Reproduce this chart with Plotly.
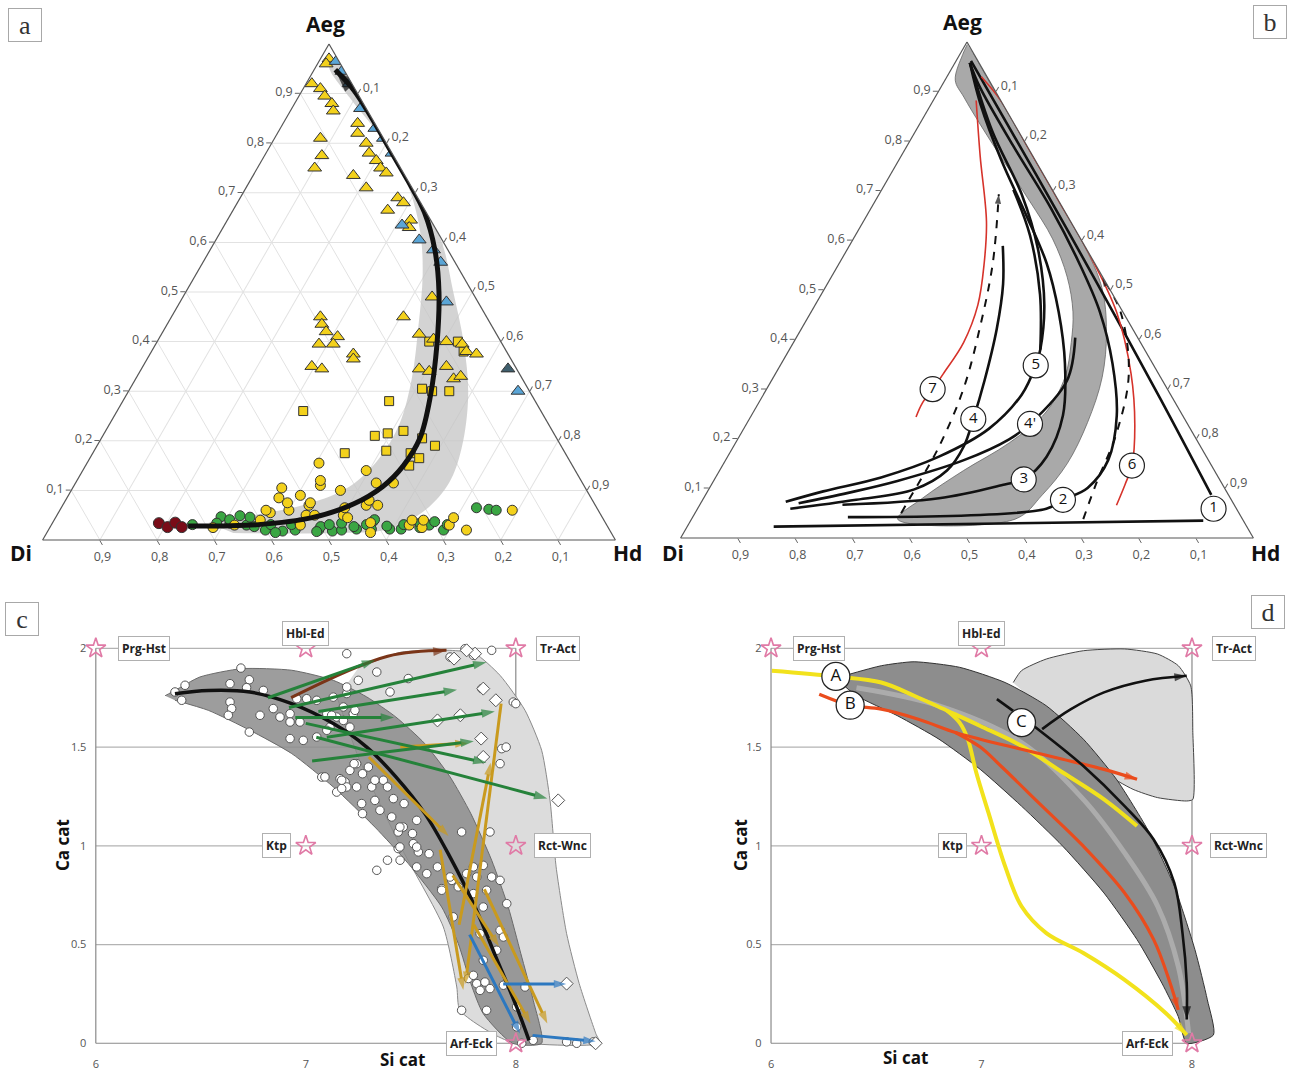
import plotly.graph_objects as go

W, H = 1295, 1074

# ================= Panel a data (Aeg, Hd fractions; Di = remainder) =================
yt_aeg = [0.97, 0.96, 0.92, 0.91, 0.895, 0.88, 0.865, 0.81, 0.775, 0.75, 0.84, 0.82, 0.80, 0.78, 0.765, 0.75,
          0.74, 0.735, 0.71, 0.665, 0.69, 0.68, 0.645, 0.63, 0.49, 0.45, 0.45, 0.435, 0.42, 0.41, 0.395, 0.395,
          0.375, 0.365, 0.35, 0.345, 0.415, 0.405, 0.40, 0.395, 0.38, 0.375, 0.345, 0.34, 0.35, 0.325, 0.33]
yt_hd = [0.015, 0.015, 0.01, 0.03, 0.045, 0.065, 0.075, 0.08, 0.10, 0.10, 0.13, 0.14, 0.165, 0.18, 0.20, 0.215,
         0.23, 0.175, 0.21, 0.27, 0.275, 0.29, 0.32, 0.325, 0.435, 0.405, 0.26, 0.27, 0.285, 0.31, 0.285, 0.31,
         0.355, 0.36, 0.295, 0.315, 0.45, 0.48, 0.505, 0.535, 0.55, 0.57, 0.485, 0.505, 0.53, 0.555, 0.565]
bt_aeg = [0.965, 0.945, 0.92, 0.87, 0.83, 0.81, 0.78, 0.635, 0.605, 0.585, 0.56, 0.48, 0.30]
bt_hd = [0.03, 0.05, 0.075, 0.12, 0.165, 0.19, 0.22, 0.31, 0.355, 0.39, 0.415, 0.465, 0.68]
dt_aeg = [0.345]
dt_hd = [0.64]
sq_aeg = [0.40, 0.305, 0.30, 0.30, 0.28, 0.26, 0.21, 0.215, 0.22, 0.205, 0.19, 0.18, 0.175, 0.165, 0.15, 0.175, 0.40, 0.38]
sq_hd = [0.475, 0.51, 0.53, 0.56, 0.465, 0.325, 0.475, 0.495, 0.52, 0.56, 0.59, 0.51, 0.555, 0.575, 0.565, 0.44, 0.525, 0.545]
yc_aeg = [0.155, 0.14, 0.11, 0.10, 0.115, 0.115, 0.085, 0.09, 0.07, 0.06, 0.055, 0.04, 0.03, 0.05, 0.07, 0.07,
          0.035, 0.03, 0.025, 0.03, 0.02, 0.06, 0.025, 0.03, 0.06, 0.075, 0.075, 0.065, 0.045, 0.08, 0.04, 0.04,
          0.045, 0.015, 0.05, 0.05, 0.105, 0.12]
yc_hd = [0.405, 0.495, 0.43, 0.47, 0.525, 0.555, 0.37, 0.405, 0.43, 0.40, 0.37, 0.36, 0.435, 0.50, 0.53, 0.55,
         0.555, 0.625, 0.65, 0.695, 0.73, 0.79, 0.285, 0.32, 0.36, 0.39, 0.43, 0.495, 0.51, 0.53, 0.625, 0.645,
         0.695, 0.565, 0.435, 0.45, 0.365, 0.425]
gc_aeg = [0.065, 0.062, 0.06, 0.034, 0.03, 0.02, 0.018, 0.02, 0.02, 0.018, 0.02, 0.022, 0.037, 0.022, 0.022, 0.022,
          0.025, 0.03, 0.02, 0.031, 0.047, 0.041, 0.049, 0.046, 0.034, 0.027, 0.031, 0.015, 0.031, 0.034, 0.027,
          0.031, 0.034, 0.027, 0.031, 0.041, 0.028, 0.031, 0.034, 0.037, 0.031, 0.017]
gc_hd = [0.725, 0.748, 0.762, 0.31, 0.341, 0.379, 0.41, 0.431, 0.472, 0.497, 0.512, 0.537, 0.558, 0.563, 0.595, 0.615,
         0.646, 0.66, 0.69, 0.246, 0.288, 0.306, 0.32, 0.339, 0.287, 0.356, 0.383, 0.399, 0.419, 0.432, 0.472,
         0.485, 0.505, 0.53, 0.55, 0.559, 0.587, 0.615, 0.642, 0.666, 0.691, 0.47]
rc_aeg = [0.034, 0.026, 0.035, 0.026]
rc_hd = [0.186, 0.205, 0.214, 0.23]
trend_a_aeg = [0.028, 0.031, 0.045, 0.073, 0.108, 0.150, 0.206, 0.290, 0.395, 0.500, 0.584, 0.661, 0.731, 0.794, 0.857, 0.906, 0.948]
trend_a_hd = [0.240, 0.361, 0.448, 0.507, 0.540, 0.555, 0.556, 0.532, 0.491, 0.442, 0.393, 0.336, 0.280, 0.219, 0.151, 0.091, 0.037]
band_a_aeg = [0.014, 0.014, 0.021, 0.059, 0.115, 0.185, 0.290, 0.395, 0.500, 0.605, 0.703, 0.787, 0.864, 0.920, 0.962,
              0.955, 0.892, 0.829, 0.773, 0.703, 0.619, 0.535, 0.430, 0.325, 0.234, 0.164, 0.108, 0.073, 0.052, 0.035]
band_a_hd = [0.326, 0.500, 0.591, 0.637, 0.652, 0.639, 0.598, 0.538, 0.467, 0.393, 0.315, 0.241, 0.162, 0.091, 0.034,
             0.023, 0.090, 0.165, 0.226, 0.290, 0.350, 0.396, 0.441, 0.482, 0.506, 0.505, 0.482, 0.427, 0.351, 0.272]

# ================= Panel b data =================
band_b_aeg = [0.986, 0.923, 0.854, 0.777, 0.693, 0.603, 0.505, 0.415, 0.324, 0.233, 0.150, 0.087, 0.038, 0.038,
              0.080, 0.136, 0.192, 0.254, 0.324, 0.394, 0.456, 0.526, 0.603, 0.679, 0.756, 0.833, 0.889, 0.923, 0.975, 0.995]
band_b_hd = [0.023, 0.076, 0.154, 0.243, 0.328, 0.409, 0.483, 0.536, 0.574, 0.594, 0.600, 0.588, 0.565, 0.360,
             0.382, 0.426, 0.478, 0.511, 0.509, 0.485, 0.457, 0.412, 0.348, 0.270, 0.188, 0.107, 0.050, 0.018, 0.005, 0.003]
l1h_aeg = [0.023, 0.035]
l1h_hd = [0.151, 0.895]
l1e_aeg = [0.087, 0.282, 0.512, 0.735, 0.962]
l1e_hd = [0.883, 0.696, 0.472, 0.252, 0.026]
l2_aeg = [0.042, 0.059, 0.077, 0.101, 0.157, 0.247, 0.352, 0.456, 0.554, 0.666, 0.791, 0.909, 0.958]
l2_hd = [0.271, 0.609, 0.629, 0.660, 0.668, 0.638, 0.578, 0.504, 0.419, 0.313, 0.185, 0.068, 0.026]
l3_aeg = [0.067, 0.080, 0.108, 0.118, 0.164, 0.247, 0.352, 0.456, 0.554, 0.652, 0.763, 0.875, 0.958]
l3_hd = [0.249, 0.411, 0.512, 0.540, 0.557, 0.544, 0.495, 0.432, 0.362, 0.277, 0.178, 0.086, 0.026]
l4_aeg = [0.589, 0.512, 0.422, 0.317, 0.240, 0.185, 0.136, 0.098, 0.077, 0.059]
l4_hd = [0.268, 0.307, 0.341, 0.372, 0.391, 0.402, 0.397, 0.359, 0.268, 0.162]
l4p_aeg = [0.404, 0.317, 0.230, 0.199, 0.157, 0.115, 0.091, 0.070]
l4p_hd = [0.487, 0.516, 0.495, 0.474, 0.416, 0.321, 0.247, 0.171]
l5_aeg = [0.958, 0.819, 0.693, 0.582, 0.470, 0.380, 0.348, 0.289, 0.220, 0.164, 0.122, 0.094, 0.073]
l5_hd = [0.026, 0.135, 0.249, 0.333, 0.400, 0.438, 0.446, 0.451, 0.428, 0.369, 0.289, 0.202, 0.147]
l5x_aeg = [0.702, 0.610, 0.491, 0.380]
l5x_hd = [0.230, 0.305, 0.382, 0.438]
l6_aeg = [0.93, 0.882, 0.791, 0.693, 0.582, 0.456, 0.331, 0.226, 0.146, 0.108, 0.066]
l6_hd = [0.06, 0.118, 0.214, 0.321, 0.427, 0.533, 0.621, 0.680, 0.715, 0.722, 0.728]
l7_aeg = [0.882, 0.770, 0.638, 0.554, 0.470, 0.394, 0.331, 0.300, 0.272, 0.244]
l7_hd = [0.075, 0.138, 0.215, 0.253, 0.284, 0.297, 0.293, 0.290, 0.286, 0.289]
dl_aeg = [0.05, 0.080, 0.185, 0.303, 0.429, 0.554, 0.693]
dl_hd = [0.36, 0.360, 0.359, 0.343, 0.309, 0.268, 0.209]
dr_aeg = [0.038, 0.108, 0.213, 0.331, 0.456, 0.526]
dr_hd = [0.684, 0.671, 0.655, 0.617, 0.540, 0.473]
num_labels = ['1', '2', '3', '4', "4'", '5', '6', '7']
num_aeg = [0.059, 0.077, 0.118, 0.240, 0.230, 0.348, 0.146, 0.300]
num_hd = [0.901, 0.629, 0.540, 0.391, 0.495, 0.446, 0.715, 0.290]

# ================= Panels c/d common =================
si_ticks = [6, 7, 8]
ca_ticks = [0, 0.5, 1, 1.5, 2]
em_names = ['Prg-Hst', 'Hbl-Ed', 'Tr-Act', 'Ktp', 'Rct-Wnc', 'Arf-Eck']
em_si = [6, 7, 8, 7, 8, 8]
em_ca = [2, 2, 2, 1, 1, 0]
lab_si = [6.23, 7.0, 8.2, 6.86, 8.22, 7.79]
lab_ca = [2.0, 2.075, 2.0, 1.0, 1.0, 0.0]

# ================= Panel c data =================
c_pts_si = [6.691, 6.425, 6.377, 6.409, 6.639, 6.731, 6.718, 6.639, 6.647, 6.631, 6.731, 6.798, 6.782, 6.845, 6.877,
            6.925, 6.925, 6.972, 6.925, 6.988, 7.004, 7.052, 7.052, 7.076, 7.147, 7.187, 7.195, 7.195, 7.131, 7.1,
            7.147, 7.115, 7.210, 7.226, 7.210, 7.242, 6.957,
            7.338, 7.488, 7.401, 7.250, 7.195, 7.179, 7.234, 7.123, 7.179, 7.1, 7.838, 7.885, 7.758, 7.687, 7.798,
            7.988, 7.933, 7.925, 7.877, 7.742, 7.298, 7.163, 7.242, 7.314, 7.195, 7.266, 7.353, 7.464, 7.440, 7.512,
            7.536, 7.338, 7.449, 7.171, 7.440, 7.369, 7.417,
            7.528, 7.576, 7.798, 7.845, 7.766, 7.814, 7.885, 7.925, 7.647, 7.695, 7.798, 7.861, 7.702, 7.845, 7.957,
            7.925, 7.941, 7.830, 7.845, 7.909, 7.774, 7.814, 7.853, 7.830, 7.877, 7.941, 8.044, 7.798, 7.742, 7.861,
            8.083, 8.028, 8.242, 8.290, 8.369, 8.004, 8.004, 8.0, 7.954,
            7.389, 7.448, 7.508, 7.528, 7.587, 7.627, 7.687, 7.647, 7.726, 7.528, 7.468, 7.389, 7.329, 7.270, 7.230,
            7.171, 7.091, 7.270, 7.329, 7.409, 7.448]
c_pts_ca = [1.900, 1.813, 1.779, 1.737, 1.821, 1.841, 1.801, 1.728, 1.695, 1.661, 1.576, 1.787, 1.661, 1.695, 1.652,
            1.669, 1.627, 1.627, 1.543, 1.534, 1.745, 1.737, 1.551, 1.348, 1.272, 1.323, 1.771, 1.973, 1.753, 1.669,
            1.652, 1.601, 1.601, 1.669, 1.382, 1.416, 1.745,
            1.880, 1.847, 1.779, 1.838, 1.804, 1.703, 1.686, 1.661, 1.635, 1.585, 1.796, 1.990, 1.998, 1.956, 1.965,
            1.728, 1.492, 1.416, 1.070, 1.070, 1.399, 1.340, 1.298, 1.298, 1.298, 1.214, 1.180, 1.095, 1.070, 1.011,
            0.969, 0.876, 0.927, 1.290, 0.986, 1.332, 1.239,
            0.893, 0.859, 0.893, 0.901, 0.859, 0.842, 0.842, 0.825, 0.783, 0.825, 0.758, 0.775, 0.640, 0.690, 0.707,
            0.572, 0.538, 0.555, 0.420, 0.471, 0.328, 0.302, 0.310, 0.268, 0.277, 0.294, 0.285, 0.344, 0.167, 0.167,
            0.015, 0.0, 0.007, 0.0, 0.007, 0.184, 0.083, 1.72, 1.50,
            0.927, 0.994, 1.062, 0.994, 0.960, 0.893, 0.842, 0.775, 0.792, 1.129, 1.214, 1.298, 1.332, 1.365, 1.416,
            1.332, 1.349, 1.163, 1.230, 1.146, 1.095]
c_dia_si = [7.627, 7.736, 7.845, 7.845, 7.806, 7.766, 7.706, 8.202, 7.905, 7.835, 8.242, 8.38]
c_dia_ca = [1.635, 1.661, 1.796, 1.450, 1.973, 1.990, 1.948, 1.230, 1.737, 1.543, 0.302, 0.0]
c_curve_si = [6.377, 6.536, 6.734, 6.933, 7.131, 7.290, 7.429, 7.567, 7.687, 7.806, 7.905, 8.004, 8.063]
c_curve_ca = [1.770, 1.787, 1.779, 1.720, 1.619, 1.500, 1.349, 1.163, 0.943, 0.690, 0.437, 0.184, 0.015]
c_dark_si = [6.33, 6.377, 6.496, 6.694, 6.933, 7.131, 7.290, 7.429, 7.567, 7.687, 7.786, 7.885, 7.964, 8.024, 8.083, 8.123,
             7.984, 7.845, 7.786, 7.726, 7.647, 7.488, 7.329, 7.131, 6.933, 6.734, 6.536, 6.377]
c_dark_ca = [1.76, 1.787, 1.855, 1.897, 1.889, 1.838, 1.754, 1.652, 1.517, 1.349, 1.163, 0.927, 0.690, 0.454, 0.218, 0.0,
             0.0, 0.150, 0.302, 0.505, 0.690, 0.910, 1.095, 1.298, 1.467, 1.585, 1.686, 1.737]
c_light_si = [7.25, 7.45, 7.686, 7.806, 7.925, 8.044, 8.123, 8.163, 8.192, 8.242, 8.302, 8.381, 8.40, 7.957, 7.734,
              7.719, 7.655, 7.45, 7.25, 7.15]
c_light_ca = [1.90, 1.98, 1.99, 1.973, 1.863, 1.686, 1.484, 1.230, 0.893, 0.555, 0.302, 0.049, 0.0, 0.015, 0.167,
              0.285, 0.589, 1.0, 1.45, 1.75]
green_si0 = [6.82, 6.92, 7.06, 6.95, 7.10, 7.03, 7.00, 7.05]
green_ca0 = [1.75, 1.70, 1.68, 1.65, 1.55, 1.43, 1.62, 1.55]
green_si1 = [7.33, 7.86, 7.72, 7.42, 7.90, 7.80, 7.86, 8.15]
green_ca1 = [1.94, 1.93, 1.79, 1.65, 1.68, 1.53, 1.42, 1.24]
brown_si = [6.93, 7.39, 7.67]
brown_ca = [1.75, 1.96, 1.99]
gold_si0 = [7.30, 7.64, 7.73, 7.93, 7.45, 7.70, 7.85, 7.80]
gold_ca0 = [1.45, 0.98, 0.60, 1.72, 1.50, 0.85, 0.78, 0.60]
gold_si1 = [7.68, 7.75, 7.88, 7.76, 7.77, 7.92, 8.15, 8.07]
gold_ca1 = [1.05, 0.27, 1.42, 0.30, 1.52, 0.49, 0.10, 0.10]
blue_si0 = [7.94, 8.08, 7.78]
blue_ca0 = [0.30, 0.04, 0.55]
blue_si1 = [8.24, 8.38, 8.02]
blue_ca1 = [0.30, 0.01, 0.05]

# ================= Panel d data =================
d_dark_si = [6.347, 6.524, 6.680, 6.896, 7.112, 7.308, 7.484, 7.641, 7.798, 7.916, 8.014, 8.073, 8.102, 7.975,
             7.935, 7.857, 7.739, 7.582, 7.386, 7.190, 6.994, 6.798, 6.602, 6.406, 6.347]
d_dark_ca = [1.861, 1.912, 1.932, 1.904, 1.827, 1.709, 1.540, 1.337, 1.066, 0.795, 0.474, 0.220, 0.042, 0.0,
             0.135, 0.305, 0.525, 0.761, 0.998, 1.201, 1.387, 1.540, 1.658, 1.760, 1.811]
d_mid_si = [6.406, 6.798, 7.190, 7.484, 7.680, 7.837, 7.935, 7.984]
d_mid_ca = [1.800, 1.709, 1.523, 1.235, 0.964, 0.694, 0.389, 0.051]
d_light_si = [7.151, 7.190, 7.308, 7.484, 7.680, 7.837, 7.935, 7.994, 8.004, 8.004, 7.975, 7.837, 7.720, 7.582, 7.45, 7.30]
d_light_ca = [1.827, 1.887, 1.946, 1.988, 1.997, 1.971, 1.912, 1.810, 1.574, 1.235, 1.227, 1.244, 1.286, 1.371, 1.50, 1.68]
ya_si = [6.004, 6.308, 6.524, 6.680, 6.837, 6.994, 7.190, 7.386, 7.582, 7.739]
ya_ca = [1.887, 1.858, 1.827, 1.760, 1.684, 1.607, 1.506, 1.371, 1.235, 1.100]
yb_si = [6.837, 6.896, 6.935, 6.975, 7.033, 7.112, 7.190, 7.308, 7.484, 7.680, 7.876, 7.975]
yb_ca = [1.684, 1.624, 1.540, 1.371, 1.168, 0.897, 0.694, 0.558, 0.457, 0.321, 0.152, 0.042]
ra_si = [6.229, 6.376, 6.524, 6.700, 6.876, 6.994, 7.190, 7.386, 7.582, 7.739]
ra_ca = [1.768, 1.712, 1.692, 1.641, 1.574, 1.540, 1.489, 1.438, 1.387, 1.337]
rb_si = [6.876, 6.994, 7.092, 7.288, 7.484, 7.680, 7.818, 7.896, 7.935]
rb_ca = [1.574, 1.500, 1.404, 1.201, 0.998, 0.761, 0.525, 0.305, 0.169]
kc_si = [7.073, 7.288, 7.484, 7.680, 7.818, 7.916, 7.955, 7.975, 7.975]
kc_ca = [1.743, 1.574, 1.404, 1.201, 1.032, 0.812, 0.558, 0.305, 0.120]
ku_si = [7.288, 7.425, 7.582, 7.778, 7.975]
ku_ca = [1.591, 1.692, 1.777, 1.836, 1.861]
abc_labels = ['A', 'B', 'C']
abc_si = [6.308, 6.376, 7.190]
abc_ca = [1.858, 1.712, 1.624]

tick_vals = [0.1, 0.2, 0.3, 0.4, 0.5, 0.6, 0.7, 0.8, 0.9]
tick_text = ['0,1', '0,2', '0,3', '0,4', '0,5', '0,6', '0,7', '0,8', '0,9']

fig = go.Figure()


def di_of(aeg, hd):
    return [max(0.0, round(1 - x - y, 4)) for x, y in zip(aeg, hd)]


def tern(aeg, hd, subplot, **kw):
    return go.Scatterternary(a=aeg, b=di_of(aeg, hd), c=hd, subplot=subplot,
                             hoverinfo='skip', showlegend=False, **kw)


def tern_arrow(aeg, hd, subplot, color, width, head, dash=None, shape='spline'):
    n = len(aeg)
    fig.add_trace(tern(aeg, hd, subplot, mode='lines+markers',
                       line=dict(color=color, width=width, dash=dash, shape=shape),
                       marker=dict(symbol='arrow', size=[0] * (n - 1) + [head], angleref='previous',
                                   color=color, line=dict(width=0))))


def xy_arrow(xs, ys, xa, ya, color, width, head, shape='linear'):
    n = len(xs)
    fig.add_trace(go.Scatter(x=xs, y=ys, xaxis=xa, yaxis=ya, mode='lines+markers',
                             line=dict(color=color, width=width, shape=shape),
                             marker=dict(symbol='arrow', size=[0] * (n - 1) + [head], angleref='previous',
                                         color=color, line=dict(width=0)),
                             cliponaxis=False, hoverinfo='skip', showlegend=False))


# ---------------- Panel a ----------------
fig.add_trace(tern(band_a_aeg, band_a_hd, 'ternary', mode='lines', fill='toself',
                   fillcolor='rgba(196,196,196,0.75)', line=dict(width=0, shape='spline')))
edge = dict(color='#333', width=1)
fig.add_trace(tern(gc_aeg, gc_hd, 'ternary', mode='markers',
                   marker=dict(symbol='circle', size=10, color='#3aa643', line=edge)))
fig.add_trace(tern(rc_aeg, rc_hd, 'ternary', mode='markers',
                   marker=dict(symbol='circle', size=11, color='#7a0c18', line=edge)))
fig.add_trace(tern(yc_aeg, yc_hd, 'ternary', mode='markers',
                   marker=dict(symbol='circle', size=10, color='#f3d11c', line=edge)))
fig.add_trace(tern(sq_aeg, sq_hd, 'ternary', mode='markers',
                   marker=dict(symbol='square', size=9, color='#f3d11c', line=edge)))
fig.add_trace(tern(yt_aeg, yt_hd, 'ternary', mode='markers',
                   marker=dict(symbol='triangle-up', size=12, color='#f3d11c', line=edge)))
fig.add_trace(tern(bt_aeg, bt_hd, 'ternary', mode='markers',
                   marker=dict(symbol='triangle-up', size=12, color='#5aa5d6', line=edge)))
fig.add_trace(tern(dt_aeg, dt_hd, 'ternary', mode='markers',
                   marker=dict(symbol='triangle-up', size=12, color='#3f5f6e', line=edge)))
tern_arrow(trend_a_aeg, trend_a_hd, 'ternary', '#111', 5, 24)

# ---------------- Panel b ----------------
fig.add_trace(tern(band_b_aeg, band_b_hd, 'ternary2', mode='lines', fill='toself',
                   fillcolor='#a9a9a9', line=dict(width=0.8, color='#666', shape='spline')))
for aeg, hd in [(l1h_aeg, l1h_hd), (l1e_aeg, l1e_hd), (l2_aeg, l2_hd), (l3_aeg, l3_hd), (l4_aeg, l4_hd),
                (l4p_aeg, l4p_hd), (l5_aeg, l5_hd), (l5x_aeg, l5x_hd)]:
    fig.add_trace(tern(aeg, hd, 'ternary2', mode='lines', line=dict(color='#111', width=2.6, shape='spline')))
for aeg, hd in [(l6_aeg, l6_hd), (l7_aeg, l7_hd)]:
    fig.add_trace(tern(aeg, hd, 'ternary2', mode='lines', line=dict(color='#d6332b', width=1.6, shape='spline')))
tern_arrow(dl_aeg, dl_hd, 'ternary2', '#111', 2, 10, dash='8px,8px')
tern_arrow(dr_aeg, dr_hd, 'ternary2', '#111', 2, 10, dash='8px,8px')
fig.add_trace(tern(num_aeg, num_hd, 'ternary2', mode='markers+text', text=num_labels,
                   textposition='middle center', textfont=dict(size=15, color='#111', family='Open Sans'),
                   marker=dict(symbol='circle', size=25, color='white', line=dict(color='#222', width=1.2))))

# ---------------- Panel c ----------------
fig.add_trace(go.Scatter(x=c_light_si, y=c_light_ca, xaxis='x', yaxis='y', mode='lines', fill='toself',
                         fillcolor='#dcdcdc', line=dict(color='#8a8a8a', width=1, shape='spline', smoothing=0.6),
                         hoverinfo='skip', showlegend=False))
fig.add_trace(go.Scatter(x=c_dark_si, y=c_dark_ca, xaxis='x', yaxis='y', mode='lines', fill='toself',
                         fillcolor='rgba(140,140,140,0.85)', line=dict(color='#6a6a6a', width=1, shape='spline', smoothing=0.6),
                         hoverinfo='skip', showlegend=False))
fig.add_trace(go.Scatter(x=c_pts_si, y=c_pts_ca, xaxis='x', yaxis='y', mode='markers', cliponaxis=False,
                         marker=dict(symbol='circle', size=8.5, color='white', line=dict(color='#555', width=1)),
                         hoverinfo='skip', showlegend=False))
fig.add_trace(go.Scatter(x=c_dia_si, y=c_dia_ca, xaxis='x', yaxis='y', mode='markers', cliponaxis=False,
                         marker=dict(symbol='diamond', size=10, color='white', line=dict(color='#555', width=1)),
                         hoverinfo='skip', showlegend=False))
fig.add_trace(go.Scatter(x=c_curve_si, y=c_curve_ca, xaxis='x', yaxis='y', mode='lines',
                         line=dict(color='#111', width=3.5, shape='spline'), hoverinfo='skip', showlegend=False))
for i in range(len(gold_si0)):
    xy_arrow([gold_si0[i], gold_si1[i]], [gold_ca0[i], gold_ca1[i]], 'x', 'y', '#c99a1e', 3, 13)
for i in range(len(blue_si0)):
    xy_arrow([blue_si0[i], blue_si1[i]], [blue_ca0[i], blue_ca1[i]], 'x', 'y', '#2c78c0', 3, 13)
xy_arrow(brown_si, brown_ca, 'x', 'y', '#7a3518', 3, 14, shape='spline')
for i in range(len(green_si0)):
    xy_arrow([green_si0[i], green_si1[i]], [green_ca0[i], green_ca1[i]], 'x', 'y', '#25823a', 3, 14)

# ---------------- Panel d ----------------
fig.add_trace(go.Scatter(x=d_light_si, y=d_light_ca, xaxis='x2', yaxis='y2', mode='lines', fill='toself',
                         fillcolor='#dadada', line=dict(color='#444', width=1, shape='spline', smoothing=0.6),
                         hoverinfo='skip', showlegend=False))
fig.add_trace(go.Scatter(x=d_dark_si, y=d_dark_ca, xaxis='x2', yaxis='y2', mode='lines', fill='toself',
                         fillcolor='#8d8d8d', line=dict(color='#333', width=1, shape='spline', smoothing=0.6),
                         hoverinfo='skip', showlegend=False))
fig.add_trace(go.Scatter(x=d_mid_si, y=d_mid_ca, xaxis='x2', yaxis='y2', mode='lines',
                         line=dict(color='rgba(175,175,175,0.9)', width=5, shape='spline'),
                         hoverinfo='skip', showlegend=False))
fig.add_trace(go.Scatter(x=ya_si, y=ya_ca, xaxis='x2', yaxis='y2', mode='lines', cliponaxis=False,
                         line=dict(color='#f2e21c', width=4, shape='spline'), hoverinfo='skip', showlegend=False))
xy_arrow(yb_si, yb_ca, 'x2', 'y2', '#f2e21c', 4, 14, shape='spline')
xy_arrow(ra_si, ra_ca, 'x2', 'y2', '#ea4c1d', 3.2, 13, shape='spline')
xy_arrow(rb_si, rb_ca, 'x2', 'y2', '#ea4c1d', 3.2, 13, shape='spline')
xy_arrow(kc_si, kc_ca, 'x2', 'y2', '#111', 2.6, 14, shape='spline')
xy_arrow(ku_si, ku_ca, 'x2', 'y2', '#111', 2.6, 13, shape='spline')
fig.add_trace(go.Scatter(x=abc_si, y=abc_ca, xaxis='x2', yaxis='y2', mode='markers+text', text=abc_labels,
                         textposition='middle center', textfont=dict(size=17, color='#111', family='Open Sans'),
                         marker=dict(symbol='circle', size=28, color='white', line=dict(color='#222', width=1.3)),
                         cliponaxis=False, hoverinfo='skip', showlegend=False))

# end-member stars + labels, grid frames for c and d
shapes = []
annotations = []
for xa, ya in [('x', 'y'), ('x2', 'y2')]:
    for yv in ca_ticks:
        shapes.append(dict(type='line', xref=xa, yref=ya, x0=si_ticks[0], x1=si_ticks[-1], y0=yv, y1=yv,
                           line=dict(color='#b3b3b3' if yv else '#8a8a8a', width=1.2), layer='below'))
    for xv in (si_ticks[0], si_ticks[-1]):
        shapes.append(dict(type='line', xref=xa, yref=ya, x0=xv, x1=xv, y0=ca_ticks[0], y1=ca_ticks[-1],
                           line=dict(color='#8a8a8a', width=1.2), layer='below'))
    fig.add_trace(go.Scatter(x=em_si, y=em_ca, xaxis=xa, yaxis=ya, mode='markers', cliponaxis=False,
                             marker=dict(symbol='star-open', size=15, color='#e07aa6', line=dict(width=1.6)),
                             hoverinfo='skip', showlegend=False))
    for name, sx, sy in zip(em_names, lab_si, lab_ca):
        annotations.append(dict(xref=xa, yref=ya, x=sx, y=sy, text=f'<b>{name}</b>', showarrow=False,
                                font=dict(size=12, color='#222', family='Open Sans'), bgcolor='white',
                                bordercolor='#b0b0b0', borderwidth=1, borderpad=3))


def P(px, py):
    return px / W, 1 - py / H


for t, (px, py) in zip(['a', 'b', 'c', 'd'], [(25, 25), (1270, 22), (22, 619), (1268, 612)]):
    x, y = P(px, py)
    annotations.append(dict(xref='paper', yref='paper', x=x, y=y, text=t, showarrow=False,
                            font=dict(size=26, color='#333', family='Liberation Serif'),
                            bgcolor='white', bordercolor='#a8a8a8', borderwidth=1, width=30, height=30,
                            xanchor='center', yanchor='middle'))
for txt, (px, py), ang, sz in [('Ca cat', (62, 845), -90, 17), ('Ca cat', (740, 845), -90, 17),
                               ('Si cat', (403, 1059), 0, 17), ('Si cat', (905, 1057), 0, 17),
                               ('Aeg', (326, 24), 0, 21), ('Di', (21, 553), 0, 21), ('Hd', (627, 553), 0, 21),
                               ('Aeg', (962, 22), 0, 21), ('Di', (673, 553), 0, 21), ('Hd', (1265, 553), 0, 21)]:
    x, y = P(px, py)
    annotations.append(dict(xref='paper', yref='paper', x=x, y=y, text=f'<b>{txt}</b>', showarrow=False,
                            textangle=ang, font=dict(size=sz, color='#111', family='Open Sans'),
                            xanchor='center', yanchor='middle'))


def tern_axis(grid):
    return dict(title=dict(text=''),
                tickmode='array', tickvals=tick_vals, ticktext=tick_text,
                ticks='outside', ticklen=5, tickcolor='#666', tickwidth=1,
                tickfont=dict(size=12.5, color='#555', family='Open Sans'),
                showline=True, linecolor='#555', linewidth=1.2,
                showgrid=grid, gridcolor='#e2e2e2', gridwidth=1, min=0)


def tern_layout(x0, x1, y0, y1, grid):
    return dict(domain=dict(x=[x0 / W, x1 / W], y=[1 - y1 / H, 1 - y0 / H]), sum=1, bgcolor='white',
                aaxis=tern_axis(grid), baxis=tern_axis(grid), caxis=tern_axis(grid))


def xy_axis(rng, p0, p1, horizontal, anchor, vals):
    if horizontal:
        dom = [p0 / W, p1 / W]
    else:
        dom = [1 - p1 / H, 1 - p0 / H]
    return dict(domain=dom, range=rng, tickmode='array', tickvals=vals, ticktext=[f'{v:g}' for v in vals],
                showgrid=False, zeroline=False, showline=False, ticks='', anchor=anchor,
                tickfont=dict(size=11, color='#555', family='Open Sans'))


# pixel geometry: c: Si 6 -> 95.8px, 210 px/unit ; d: Si 6 -> 771px, 210.5 px/unit ; Ca 0 -> 1043.3px, 197.5 px/unit
fig.update_layout(
    width=W, height=H, margin=dict(l=0, r=0, t=0, b=0), paper_bgcolor='white', plot_bgcolor='rgba(0,0,0,0)',
    showlegend=False,
    ternary=tern_layout(42.5, 615.5, 44, 540, True),
    ternary2=tern_layout(680.5, 1253.5, 42, 538, False),
    xaxis=xy_axis([5.96, 8.6], 87.4, 641.8, True, 'y', si_ticks),
    yaxis=xy_axis([-0.065, 2.1], 628.6, 1056.1, False, 'x', ca_ticks),
    xaxis2=xy_axis([5.96, 8.45], 762.6, 1286.7, True, 'y2', si_ticks),
    yaxis2=xy_axis([-0.065, 2.1], 628.6, 1056.1, False, 'x2', ca_ticks),
    shapes=shapes, annotations=annotations,
)

fig.write_html('out.html', config={'displayModeBar': False},
               post_script="document.body.style.margin='0px';document.body.style.overflow='hidden';")
